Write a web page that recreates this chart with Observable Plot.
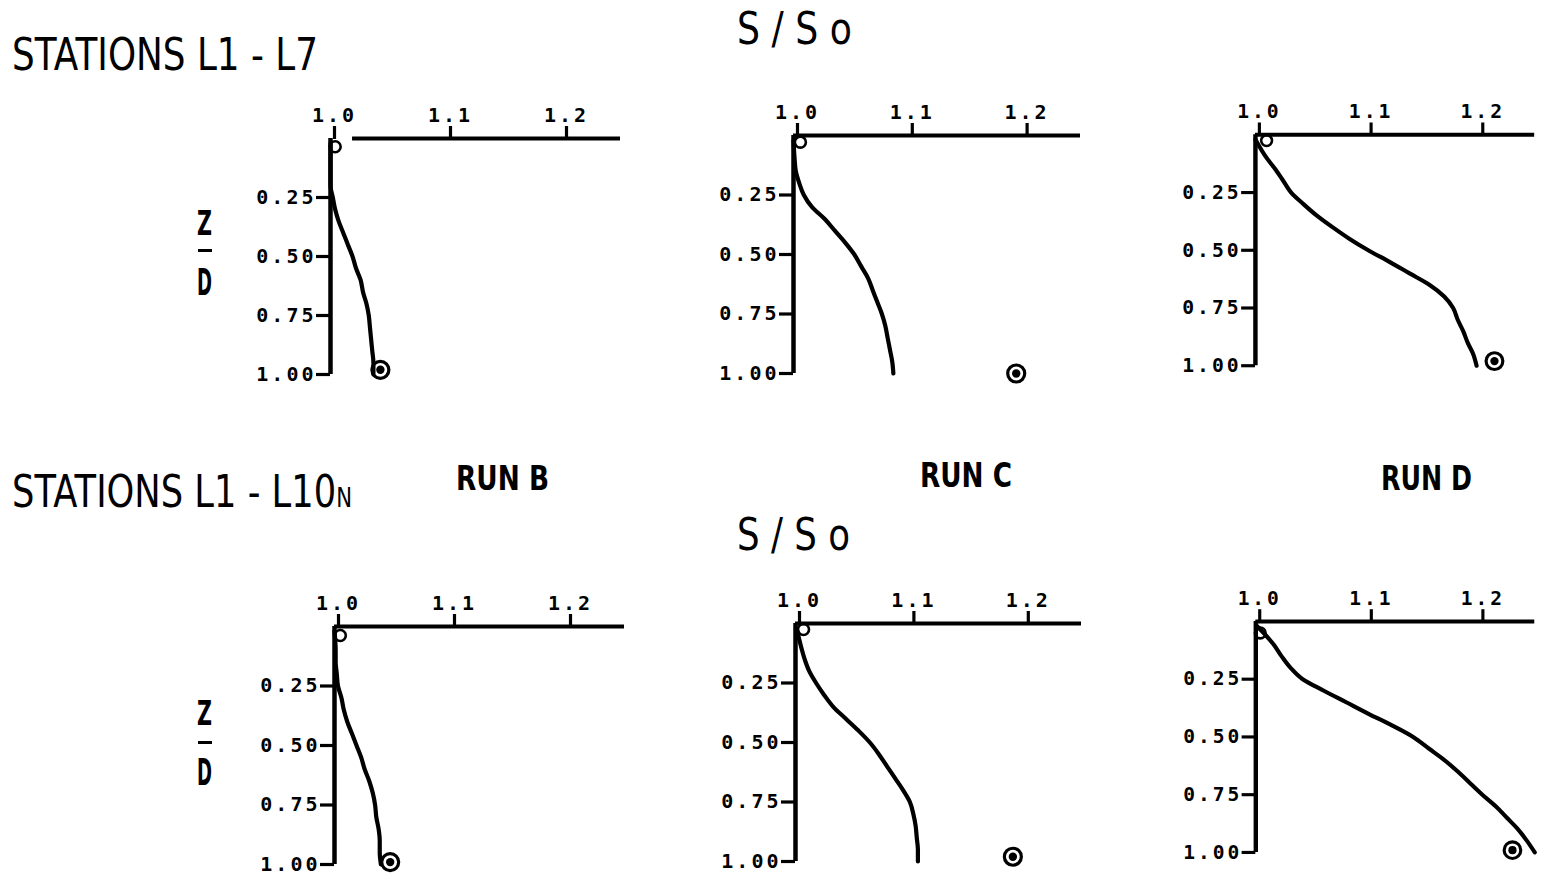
<!DOCTYPE html>
<html>
<head>
<meta charset="utf-8">
<script src="https://cdn.jsdelivr.net/npm/d3@7"></script>
<script src="https://cdn.jsdelivr.net/npm/@observablehq/plot@0.6"></script>
<style>
  html, body { margin: 0; padding: 0; background: #fff; }
  body { width: 1548px; height: 885px; position: relative; overflow: hidden; font-family: "DejaVu Sans", sans-serif; color: #000; }
  .panel { position: absolute; }
  .panel svg text { font-family: "DejaVu Sans Mono", monospace; font-weight: bold; letter-spacing: 3px; }
  .lbl { position: absolute; white-space: nowrap; line-height: 1; transform-origin: 0 0; }
  .bar { position: absolute; height: 3px; background: #000; }
</style>
</head>
<body>
<script>
// Relative depth Z/D at which each salinity profile is sampled
const depth = [0.02, 0.10, 0.15, 0.20, 0.25, 0.30, 0.35, 0.40, 0.45, 0.50,
               0.55, 0.60, 0.65, 0.70, 0.75, 0.80, 0.85, 0.90, 0.95, 1.00];

// S/So profiles, stations L1 - L7
const salL7RunB = [1.000, 1.000, 1.000, 1.000, 1.002, 1.004, 1.007, 1.011, 1.015, 1.019,
                   1.022, 1.026, 1.028, 1.031, 1.033, 1.034, 1.035, 1.036, 1.037, 1.037];
const salL7RunC = [1.000, 1.001, 1.002, 1.005, 1.009, 1.016, 1.027, 1.036, 1.045, 1.053,
                   1.059, 1.065, 1.069, 1.073, 1.077, 1.080, 1.082, 1.084, 1.086, 1.087];
const salL7RunD = [1.000, 1.010, 1.018, 1.025, 1.032, 1.043, 1.055, 1.069, 1.084, 1.101,
                   1.120, 1.138, 1.156, 1.169, 1.177, 1.181, 1.186, 1.190, 1.195, 1.198];

// S/So profiles, stations L1 - L10N
const salL10RunB = [1.000, 1.001, 1.001, 1.002, 1.003, 1.006, 1.008, 1.011, 1.015, 1.019,
                    1.023, 1.026, 1.030, 1.033, 1.035, 1.036, 1.038, 1.039, 1.039, 1.040];
const salL10RunC = [1.001, 1.005, 1.008, 1.012, 1.018, 1.025, 1.033, 1.044, 1.055, 1.065,
                    1.073, 1.080, 1.087, 1.094, 1.100, 1.103, 1.105, 1.106, 1.107, 1.107];
const salL10RunD = [1.001, 1.016, 1.023, 1.031, 1.042, 1.061, 1.081, 1.101, 1.122, 1.141,
                    1.155, 1.169, 1.181, 1.192, 1.203, 1.215, 1.225, 1.235, 1.243, 1.250];

// Observed values near the surface and at the bottom (order: L7 B, C, D, L10N B, C, D)
const surfaceS = [1.004, 1.006, 1.010, 1.005, 1.007, 1.004];
const surfaceZ = [0.035, 0.028, 0.025, 0.038, 0.025, 0.050];
const bottomS  = [1.043, 1.194, 1.214, 1.048, 1.190, 1.230];
const bottomZ  = [0.980, 1.000, 0.980, 0.990, 0.980, 0.990];

const runNames = ["RUN B", "RUN C", "RUN D"];
const xTicks = [1.0, 1.1, 1.2];
const yTicks = [0.25, 0.50, 0.75, 1.00];

const profiles = [salL7RunB, salL7RunC, salL7RunD, salL10RunB, salL10RunC, salL10RunD];

// Frame of each small chart: pixel position of (S/So = 1.0, Z/D = 0) and plot size
const frames = [
  {x0: 330, y0: 138, w: 290, h: 236, lineFrom: 1.019},
  {x0: 793, y0: 135, w: 287, h: 238, lineFrom: 1.0},
  {x0: 1256, y0: 135, w: 283, h: 234, lineFrom: 1.0},
  {x0: 334, y0: 626, w: 290, h: 238, lineFrom: 1.0},
  {x0: 795, y0: 623, w: 286, h: 238, lineFrom: 1.0},
  {x0: 1257, y0: 622, w: 285, h: 236, lineFrom: 1.0}
];

const mL = 80, mR = 14, mT = 50, mB = 22;

profiles.forEach((sal, i) => {
  const f = frames[i];
  const rows = depth.map((z, k) => ({z, s: sal[k]}));
  const surf = [{s: surfaceS[i], z: surfaceZ[i]}];
  const bot = [{s: bottomS[i], z: bottomZ[i]}];
  const chart = Plot.plot({
    width: mL + f.w + mR,
    height: mT + f.h + mB,
    marginLeft: mL, marginRight: mR, marginTop: mT, marginBottom: mB,
    x: {domain: [1.0, 1.25], axis: null},
    y: {domain: [0, 1], reverse: true, axis: null},
    style: {background: "transparent", overflow: "visible", fontSize: "20px"},
    marks: [
      Plot.axisX(xTicks, {anchor: "top", label: null, tickSize: 13, tickPadding: 4, strokeWidth: 3.2,
        fontSize: 20, dx: 4, tickFormat: d => d.toFixed(1)}),
      Plot.axisY(yTicks, {anchor: "left", label: null, tickSize: 14, tickPadding: 0, strokeWidth: 3.2,
        fontSize: 20, tickFormat: d => d.toFixed(2)}),
      Plot.ruleY([0], {x1: f.lineFrom, x2: 1.25, stroke: "#000", strokeWidth: 4}),
      Plot.ruleX([1.0], {y1: 0, y2: 1, stroke: "#000", strokeWidth: 4.5}),
      Plot.line(rows, {x: "s", y: "z", curve: "monotone-y", stroke: "#000", strokeWidth: 4.2,
        strokeLinecap: "round"}),
      Plot.dot(surf, {x: "s", y: "z", r: 5.5, stroke: "#000", strokeWidth: 2.6, fill: "none"}),
      Plot.dot(bot, {x: "s", y: "z", r: 8.5, stroke: "#000", strokeWidth: 3.2, fill: "none"}),
      Plot.dot(bot, {x: "s", y: "z", r: 4.2, fill: "#000"})
    ]
  });
  const holder = document.createElement("div");
  holder.className = "panel";
  holder.style.left = (f.x0 - mL) + "px";
  holder.style.top = (f.y0 - mT) + "px";
  holder.appendChild(chart);
  document.body.appendChild(holder);
});

// Text placed by cap-height and fitted to a given width
function label(parts, left, capTop, capH, width, weight) {
  const fs = capH / 0.729;
  const el = document.createElement("div");
  el.className = "lbl";
  el.style.fontSize = fs + "px";
  el.style.fontWeight = weight;
  for (const p of parts) {
    const sp = document.createElement("span");
    sp.textContent = p.t;
    if (p.scale) sp.style.fontSize = (fs * p.scale) + "px";
    el.appendChild(sp);
  }
  el.style.left = left + "px";
  el.style.top = (capTop - 0.117 * fs) + "px";
  document.body.appendChild(el);
  const natural = el.getBoundingClientRect().width;
  el.style.transform = `scaleX(${width / natural})`;
  return el;
}

label([{t: "STATIONS L1 - L7"}], 12, 38, 32, 306, "normal");
label([{t: "STATIONS L1 - L10"}, {t: "N", scale: 0.6}], 12, 475, 32, 340, "normal");
label([{t: "S / S o"}], 737, 12, 32, 115, "normal");
label([{t: "S / S o"}], 737, 518, 32, 113, "normal");
label([{t: runNames[0]}], 456, 467, 24, 93, "bold");
label([{t: runNames[1]}], 920, 464, 24, 92, "bold");
label([{t: runNames[2]}], 1381, 467, 24, 91, "bold");

// Z over D axis label for each row, with its fraction bar
[[210, 249, 268], [700, 741, 758]].forEach(([zTop, barY, dTop]) => {
  label([{t: "Z"}], 197, zTop, 25, 15, "bold");
  const bar = document.createElement("div");
  bar.className = "bar";
  bar.style.left = "198px";
  bar.style.width = "14px";
  bar.style.top = barY + "px";
  document.body.appendChild(bar);
  label([{t: "D"}], 197, dTop, 27, 15, "bold");
});
</script>
</body>
</html>
